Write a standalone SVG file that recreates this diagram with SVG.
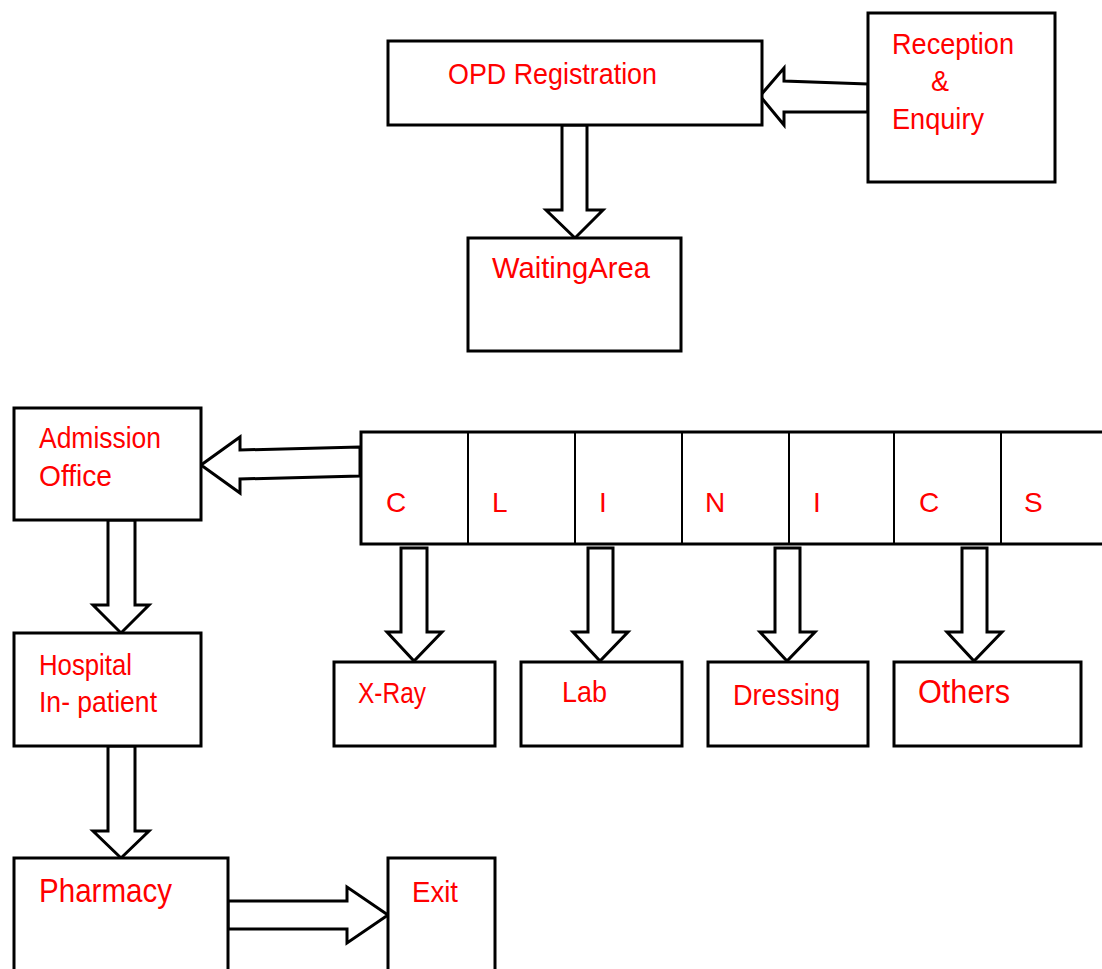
<svg xmlns="http://www.w3.org/2000/svg" width="1102" height="969" viewBox="0 0 1102 969">
  <style>
    .box { fill: #ffffff; stroke: #000000; stroke-width: 3; }
    .div { stroke: #000000; stroke-width: 2; }
    .arrow { fill: #ffffff; stroke: #000000; stroke-width: 3; stroke-linejoin: miter; }
    .lbl { font-family: "Liberation Sans", Arial, sans-serif; font-size: 30px; fill: #ff0000; }
    .big { font-size: 33px; }
    .letter { font-size: 28px; }
  </style>
  <rect width="1102" height="969" fill="#ffffff"/>

  <!-- connectors: hollow block arrows -->
  <g id="connectors">
    <polygon class="arrow" points="868,84 784,81 784,68 760,96 784,125 784,112 868,112"/>
    <polygon class="arrow" points="562,125 587,125 587,210 603,210 575,238 546,210 562,210"/>
    <polygon class="arrow" points="360,447 240,450 240,437 201,465 240,493 240,479 360,476"/>
    <polygon class="arrow" points="401,548 427,548 427,632 442,632 414,661 387,632 401,632"/>
    <polygon class="arrow" points="588,548 613,548 613,632 628,632 600,661 573,632 588,632"/>
    <polygon class="arrow" points="775,548 800,548 800,632 815,632 787,661 760,632 775,632"/>
    <polygon class="arrow" points="962,548 987,548 987,632 1002,632 974,661 947,632 962,632"/>
    <polygon class="arrow" points="108,520 135,520 135,605 149,605 121,633 93,605 108,605"/>
    <polygon class="arrow" points="108,746 135,746 135,831 149,831 121,858 93,831 108,831"/>
    <polygon class="arrow" points="228,901 347,901 347,887 388,915 347,943 347,929 228,929"/>
  </g>

  <g id="opd-registration">
    <rect class="box" x="388" y="41" width="374" height="84"/>
    <text class="lbl" x="448" y="84" textLength="209" lengthAdjust="spacingAndGlyphs">OPD Registration</text>
  </g>

  <g id="reception-enquiry">
    <rect class="box" x="868" y="13" width="187" height="169"/>
    <text class="lbl" x="892" y="54" textLength="122" lengthAdjust="spacingAndGlyphs">Reception</text>
    <text class="lbl" x="931" y="91" textLength="18" lengthAdjust="spacingAndGlyphs">&amp;</text>
    <text class="lbl" x="892" y="129" textLength="92" lengthAdjust="spacingAndGlyphs">Enquiry</text>
  </g>

  <g id="waiting-area">
    <rect class="box" x="468" y="238" width="213" height="113"/>
    <text class="lbl" x="492" y="278" textLength="158" lengthAdjust="spacingAndGlyphs">WaitingArea</text>
  </g>

  <g id="admission-office">
    <rect class="box" x="14" y="408" width="187" height="112"/>
    <text class="lbl" x="39" y="448" textLength="122" lengthAdjust="spacingAndGlyphs">Admission</text>
    <text class="lbl" x="39" y="486" textLength="73" lengthAdjust="spacingAndGlyphs">Office</text>
  </g>

  <g id="clinics">
    <rect class="box" x="361" y="432" width="760" height="112"/>
    <line class="div" x1="468" y1="432" x2="468" y2="544"/>
    <line class="div" x1="575" y1="432" x2="575" y2="544"/>
    <line class="div" x1="682" y1="432" x2="682" y2="544" stroke-width="3"/>
    <line class="div" x1="789" y1="432" x2="789" y2="544"/>
    <line class="div" x1="894" y1="432" x2="894" y2="544" stroke-width="3"/>
    <line class="div" x1="1001" y1="432" x2="1001" y2="544"/>
    <text class="lbl letter" x="386" y="512">C</text>
    <text class="lbl letter" x="492" y="512">L</text>
    <text class="lbl letter" x="599" y="512">I</text>
    <text class="lbl letter" x="705" y="512">N</text>
    <text class="lbl letter" x="813" y="512">I</text>
    <text class="lbl letter" x="919" y="512">C</text>
    <text class="lbl letter" x="1024" y="512">S</text>
  </g>

  <g id="x-ray">
    <rect class="box" x="334" y="662" width="161" height="84"/>
    <text class="lbl" x="358" y="703" textLength="68" lengthAdjust="spacingAndGlyphs">X-Ray</text>
  </g>

  <g id="lab">
    <rect class="box" x="521" y="662" width="161" height="84"/>
    <text class="lbl" x="562" y="702" textLength="45" lengthAdjust="spacingAndGlyphs">Lab</text>
  </g>

  <g id="dressing">
    <rect class="box" x="708" y="662" width="160" height="84"/>
    <text class="lbl" x="733" y="705" textLength="107" lengthAdjust="spacingAndGlyphs">Dressing</text>
  </g>

  <g id="others">
    <rect class="box" x="894" y="662" width="187" height="84"/>
    <text class="lbl big" x="918" y="703" textLength="92" lengthAdjust="spacingAndGlyphs">Others</text>
  </g>

  <g id="hospital-inpatient">
    <rect class="box" x="14" y="633" width="187" height="113"/>
    <text class="lbl" x="39" y="675" textLength="93" lengthAdjust="spacingAndGlyphs">Hospital</text>
    <text class="lbl" x="39" y="712" textLength="118" lengthAdjust="spacingAndGlyphs">In- patient</text>
  </g>

  <g id="pharmacy">
    <rect class="box" x="14" y="858" width="214" height="130"/>
    <text class="lbl big" x="39" y="902" textLength="133" lengthAdjust="spacingAndGlyphs">Pharmacy</text>
  </g>

  <g id="exit">
    <rect class="box" x="388" y="858" width="107" height="130"/>
    <text class="lbl" x="412" y="902" textLength="46" lengthAdjust="spacingAndGlyphs">Exit</text>
  </g>
</svg>
